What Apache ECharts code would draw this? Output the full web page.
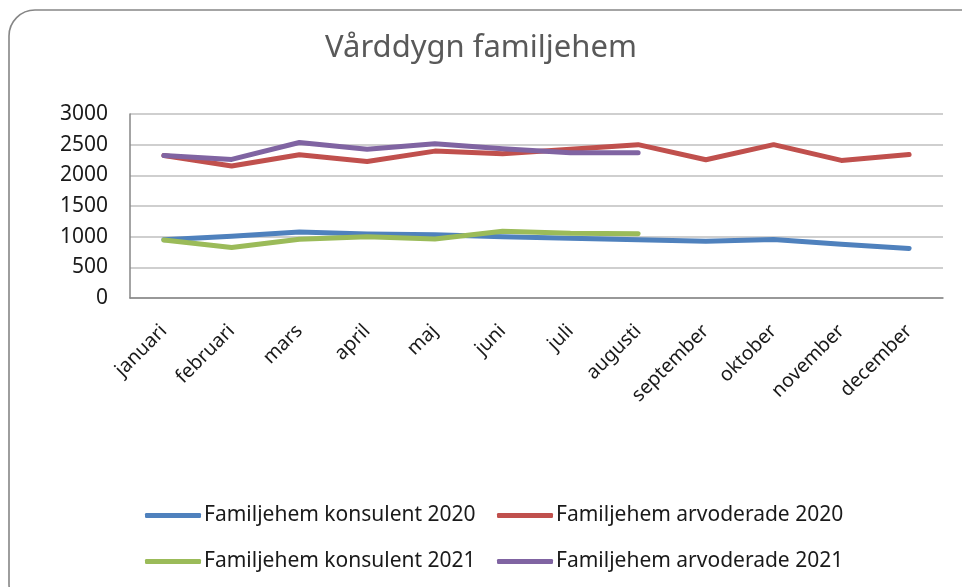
<!DOCTYPE html>
<html>
<head>
<meta charset="utf-8">
<script src="https://cdn.jsdelivr.net/npm/echarts@6/dist/echarts.min.js"></script>
<style>html,body{margin:0;padding:0;background:#fff;}#c{width:962px;height:587px;}</style>
</head>
<body>
<div id="c"></div>
<script>
const months = ['januari','februari','mars','april','maj','juni','juli','augusti','september','oktober','november','december'];
const konsulent2020 = [950, 1005, 1075, 1043, 1032, 1000, 973, 948, 925, 955, 876, 808];
const arvoderade2020 = [2324, 2151, 2335, 2227, 2395, 2351, 2425, 2500, 2254, 2500, 2243, 2340];
const konsulent2021 = [946, 822, 957, 1000, 962, 1090, 1057, 1049];
const arvoderade2021 = [2324, 2259, 2535, 2427, 2514, 2432, 2368, 2368];
const yTicks = [0, 500, 1000, 1500, 2000, 2500, 3000];
const seriesNames = ['Familjehem konsulent 2020','Familjehem arvoderade 2020','Familjehem konsulent 2021','Familjehem arvoderade 2021'];
const colors = ['#4F81BD','#C0504D','#9BBB59','#8064A2'];

const FONT = 'Noto Sans';
const chart = echarts.init(document.getElementById('c'), null, {renderer:'canvas'});
function mkSeries(name, data, color){
  return {name, type:'line', data, symbol:'none', smooth:false,
    lineStyle:{width:5, color, cap:'round', join:'round'}, itemStyle:{color}};
}
function mkLegend(name, left, top){
  return {data:[name], left, top, padding:0, itemWidth:56, itemHeight:5, icon:'roundRect', itemGap:4,
    textStyle:{fontFamily:FONT, fontSize:21, color:'#1a1a1a', padding:[0,0,0,-2]}};
}
chart.setOption({
  animation:false,
  backgroundColor:'#fff',
  color:colors,
  title:{text:'Vårddygn familjehem', left:'center', top:28,
    textStyle:{fontFamily:FONT, fontSize:31, fontWeight:'normal', color:'#595959'}},
  graphic:[{type:'rect', shape:{x:9, y:10, width:990, height:600, r:26},
    style:{fill:'none', stroke:'#868686', lineWidth:1.6}, silent:true}],
  grid:{left:130, right:19, top:114, bottom:289, containLabel:false},
  legend:[
    mkLegend(seriesNames[0], 145, 505),
    mkLegend(seriesNames[1], 497, 505),
    mkLegend(seriesNames[2], 145, 551),
    mkLegend(seriesNames[3], 497, 551)
  ],
  xAxis:{type:'category', data:months, boundaryGap:true,
    axisLine:{lineStyle:{color:'#868686', width:1.5}},
    axisTick:{show:false},
    axisLabel:{rotate:45, interval:0, fontFamily:FONT, fontSize:19.5, color:'#1a1a1a', margin:30}},
  yAxis:{type:'value', min:yTicks[0], max:yTicks[yTicks.length-1], interval:500,
    axisLine:{show:true, lineStyle:{color:'#868686', width:1.5}},
    axisTick:{show:false},
    splitLine:{lineStyle:{color:'#BFBFBF', width:1.5}},
    axisLabel:{fontFamily:FONT, fontSize:21, color:'#1a1a1a', margin:22, formatter:v => String(v)}},
  series:[
    mkSeries(seriesNames[0], konsulent2020, colors[0]),
    mkSeries(seriesNames[1], arvoderade2020, colors[1]),
    mkSeries(seriesNames[2], konsulent2021, colors[2]),
    mkSeries(seriesNames[3], arvoderade2021, colors[3])
  ]
});
</script>
</body>
</html>
